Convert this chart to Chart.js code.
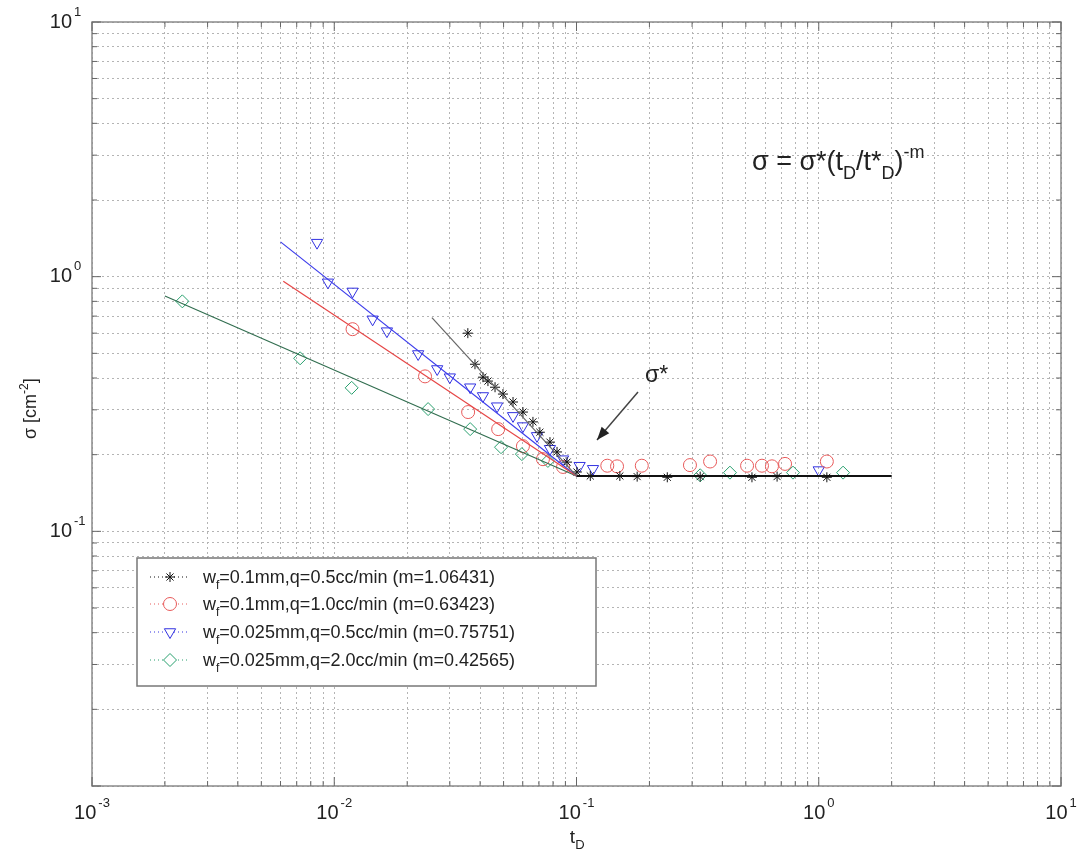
<!DOCTYPE html>
<html>
<head>
<meta charset="utf-8">
<script src="https://cdn.jsdelivr.net/npm/chart.js@4.4.1/dist/chart.umd.min.js"></script>
<style>
  html, body { margin: 0; padding: 0; background: #fff; }
  #wrap { width: 1080px; height: 861px; position: relative; }
</style>
</head>
<body>
<div id="wrap"><canvas id="chart"></canvas></div>
<script>
// axis decades and their labels
const xMajor = [0.001, 0.01, 0.1, 1, 10];
const xExp = ['-3', '-2', '-1', '0', '1'];
const yMajor = [0.01, 0.1, 1, 10];
const yExp = ['', '-1', '0', '1']; // bottom decade has no label in the original

// legend text
const seriesNames = [
  ['=0.1mm,q=0.5cc/min (m=1.06431)'],
  ['=0.1mm,q=1.0cc/min (m=0.63423)'],
  ['=0.025mm,q=0.5cc/min (m=0.75751)'],
  ['=0.025mm,q=2.0cc/min (m=0.42565)']
];

// w_f=0.1mm, q=0.5cc/min  (stars)
const starT = [0.0356, 0.0381, 0.0411, 0.0431, 0.0461, 0.0497, 0.0547, 0.0601, 0.0661, 0.0706, 0.0777, 0.0831, 0.0914, 0.1004, 0.114, 0.151, 0.178, 0.237, 0.324, 0.530, 0.673, 1.08];
const starS = [0.600, 0.453, 0.403, 0.389, 0.368, 0.346, 0.322, 0.294, 0.269, 0.245, 0.224, 0.205, 0.187, 0.171, 0.165, 0.165, 0.164, 0.163, 0.164, 0.163, 0.164, 0.163];

// w_f=0.1mm, q=1.0cc/min  (circles)
const circT = [0.0119, 0.0237, 0.0357, 0.0475, 0.0601, 0.0727, 0.088, 0.134, 0.147, 0.186, 0.294, 0.356, 0.506, 0.583, 0.641, 0.726, 1.08];
const circS = [0.622, 0.406, 0.294, 0.252, 0.216, 0.192, 0.179, 0.181, 0.180, 0.181, 0.182, 0.188, 0.181, 0.181, 0.180, 0.184, 0.188];

// w_f=0.025mm, q=0.5cc/min  (triangles)
const triT = [0.00849, 0.00942, 0.0119, 0.0144, 0.0165, 0.0222, 0.0266, 0.0300, 0.0364, 0.0411, 0.0470, 0.0547, 0.0601, 0.0687, 0.0777, 0.0880, 0.103, 0.117, 1.0];
const triS = [1.36, 0.95, 0.875, 0.680, 0.611, 0.497, 0.434, 0.403, 0.368, 0.340, 0.310, 0.284, 0.259, 0.237, 0.211, 0.192, 0.181, 0.176, 0.174];

// w_f=0.025mm, q=2.0cc/min  (diamonds)
const diaT = [0.00236, 0.00723, 0.0118, 0.0244, 0.0364, 0.0488, 0.0595, 0.0762, 0.324, 0.430, 0.783, 1.26];
const diaS = [0.80, 0.478, 0.366, 0.302, 0.252, 0.214, 0.201, 0.189, 0.166, 0.170, 0.170, 0.170];

// power-law fit lines, read at their ends
const fitStarT = [0.0253, 0.1];  const fitStarS = [0.69, 0.165];
const fitCircT = [0.00616, 0.1]; const fitCircS = [0.96, 0.165];
const fitTriT = [0.0060, 0.1];   const fitTriS = [1.37, 0.165];
const fitDiaT = [0.0020, 0.1];   const fitDiaS = [0.84, 0.165];
const plateauT = [0.1, 2.0];     const plateauS = [0.165, 0.165];

function pts(t, s) { return t.map((v, i) => ({ x: v, y: s[i] })); }
function allTicks(majors) {
  const out = [];
  majors.forEach((m, i) => {
    out.push({ value: m });
    if (i < majors.length - 1) for (let k = 2; k <= 9; k++) out.push({ value: m * k });
  });
  return out;
}

const colors = ['#111111', 'rgb(232,90,90)', 'rgb(50,50,225)', 'rgb(40,160,110)'];
const styles = [
  { pointStyle: 'star', radius: 5, rotation: 0 },
  { pointStyle: 'circle', radius: 6.5, rotation: 0 },
  { pointStyle: 'triangle', radius: 6.5, rotation: 180 },
  { pointStyle: 'rectRot', radius: 6.5, rotation: 0 }
];

function markerSet(t, s, i) {
  return {
    data: pts(t, s), showLine: false,
    borderColor: colors[i], backgroundColor: 'rgba(0,0,0,0)', borderWidth: 1,
    pointStyle: styles[i].pointStyle, pointRadius: styles[i].radius,
    pointRotation: styles[i].rotation, pointHoverRadius: styles[i].radius
  };
}
function lineSet(t, s, color, w) {
  return { data: pts(t, s), showLine: true, borderColor: color, borderWidth: w, pointRadius: 0, fill: false };
}

const FONT = '"Liberation Sans", Arial, sans-serif';

// draws "10" with a superscript exponent
function drawPow(ctx, exp, x, y, mode) {
  ctx.fillStyle = '#222';
  ctx.textBaseline = 'middle';
  ctx.font = '20px ' + FONT;
  const wb = ctx.measureText('10').width;
  ctx.font = '13px ' + FONT;
  const we = ctx.measureText(exp).width;
  let x0;
  if (mode === 'x') x0 = x - (wb + we + 2) / 2;
  else x0 = x - wb;
  ctx.font = '20px ' + FONT;
  ctx.textAlign = 'left';
  ctx.fillText('10', x0, y);
  ctx.font = '13px ' + FONT;
  ctx.fillText(exp, x0 + wb + 2, y - 10);
}

// draws a run of [text, kind] pieces, kind: n normal, b subscript, p superscript
function drawRich(ctx, parts, x, y, size) {
  ctx.textAlign = 'left';
  ctx.textBaseline = 'alphabetic';
  let cx = x;
  parts.forEach(([txt, kind]) => {
    const sz = kind === 'n' ? size : Math.round(size * 0.68);
    const dy = kind === 'b' ? size * 0.33 : kind === 'p' ? -size * 0.45 : 0;
    ctx.font = sz + 'px ' + FONT;
    ctx.fillText(txt, cx, y + dy);
    cx += ctx.measureText(txt).width;
  });
  return cx - x;
}

const decor = {
  id: 'decor',
  afterDraw(chart) {
    const { ctx, chartArea: a, scales: { x, y } } = chart;
    ctx.save();
    // frame
    ctx.strokeStyle = '#8a8a8a';
    ctx.lineWidth = 1.5;
    ctx.setLineDash([]);
    ctx.strokeRect(a.left, a.top, a.right - a.left, a.bottom - a.top);
    // inward ticks on all four sides
    ctx.lineWidth = 1;
    ctx.strokeStyle = '#666';
    ctx.beginPath();
    x.ticks.forEach(t => {
      const px = x.getPixelForValue(t.value);
      const len = xMajor.includes(t.value) ? 9 : 5;
      ctx.moveTo(px, a.bottom); ctx.lineTo(px, a.bottom - len);
      ctx.moveTo(px, a.top); ctx.lineTo(px, a.top + len);
    });
    y.ticks.forEach(t => {
      const py = y.getPixelForValue(t.value);
      const len = yMajor.includes(t.value) ? 9 : 5;
      ctx.moveTo(a.left, py); ctx.lineTo(a.left + len, py);
      ctx.moveTo(a.right, py); ctx.lineTo(a.right - len, py);
    });
    ctx.stroke();

    // tick labels
    xMajor.forEach((v, i) => drawPow(ctx, xExp[i], x.getPixelForValue(v), a.bottom + 27, 'x'));
    yMajor.forEach((v, i) => { if (yExp[i]) drawPow(ctx, yExp[i], a.left - 20, y.getPixelForValue(v), 'y'); });

    // axis titles
    ctx.fillStyle = '#222';
    const wt = (() => { ctx.font = '19px ' + FONT; return ctx.measureText('t').width + 8; })();
    drawRich(ctx, [['t', 'n'], ['D', 'b']], (a.left + a.right) / 2 - wt / 2, a.bottom + 57, 19);
    ctx.save();
    ctx.translate(36, 408);
    ctx.rotate(-Math.PI / 2);
    ctx.font = '18px ' + FONT;
    const wy = ctx.measureText('σ [cm]').width + 12;
    drawRich(ctx, [['σ [cm', 'n'], ['-2', 'p'], [']', 'n']], -wy / 2, 0, 18);
    ctx.restore();

    // equation
    drawRich(ctx, [['σ = σ*(t', 'n'], ['D', 'b'], ['/t*', 'n'], ['D', 'b'], [')', 'n'], ['-m', 'p']], 752, 170, 27);

    // sigma* note and arrow
    drawRich(ctx, [['σ*', 'n']], 645, 382, 23);
    const x1 = 638, y1 = 392, x2 = 597, y2 = 440;
    ctx.strokeStyle = '#444';
    ctx.lineWidth = 1.5;
    ctx.beginPath(); ctx.moveTo(x1, y1); ctx.lineTo(x2, y2); ctx.stroke();
    const ang = Math.atan2(y2 - y1, x2 - x1);
    ctx.fillStyle = '#222';
    ctx.beginPath();
    ctx.moveTo(x2, y2);
    ctx.lineTo(x2 - 13 * Math.cos(ang) + 5 * Math.sin(ang), y2 - 13 * Math.sin(ang) - 5 * Math.cos(ang));
    ctx.lineTo(x2 - 13 * Math.cos(ang) - 5 * Math.sin(ang), y2 - 13 * Math.sin(ang) + 5 * Math.cos(ang));
    ctx.closePath(); ctx.fill();

    // legend box
    const lx = 137, ly = 558, lw = 459, lh = 128;
    ctx.fillStyle = '#fff';
    ctx.fillRect(lx, ly, lw, lh);
    ctx.strokeStyle = '#777';
    ctx.lineWidth = 1.5;
    ctx.strokeRect(lx, ly, lw, lh);
    const rows = [577, 604, 632, 660];
    rows.forEach((ry, i) => {
      ctx.strokeStyle = colors[i];
      ctx.lineWidth = 1;
      ctx.setLineDash([1, 3]);
      ctx.beginPath(); ctx.moveTo(150, ry); ctx.lineTo(190, ry); ctx.stroke();
      ctx.setLineDash([]);
      ctx.fillStyle = '#fff';
      Chart.helpers.drawPoint(ctx, { pointStyle: styles[i].pointStyle, radius: styles[i].radius, rotation: styles[i].rotation, borderWidth: 1 }, 170, ry);
      ctx.fillStyle = '#222';
      drawRich(ctx, [['w', 'n'], ['f', 'b'], [seriesNames[i][0], 'n']], 203, ry + 6, 18);
    });
    ctx.restore();
  }
};

const gridOpts = { color: '#b4b4b4', lineWidth: 1, drawTicks: false };

new Chart(document.getElementById('chart'), {
  type: 'scatter',
  data: {
    datasets: [
      lineSet(fitStarT, fitStarS, '#666', 1.2),
      lineSet(fitCircT, fitCircS, 'rgb(230,70,70)', 1.2),
      lineSet(fitTriT, fitTriS, 'rgb(60,60,235)', 1.2),
      lineSet(fitDiaT, fitDiaS, 'rgb(50,110,80)', 1.2),
      lineSet(plateauT, plateauS, '#111', 2),
      markerSet(starT, starS, 0),
      markerSet(circT, circS, 1),
      markerSet(triT, triS, 2),
      markerSet(diaT, diaS, 3)
    ]
  },
  options: {
    responsive: true,
    maintainAspectRatio: false,
    animation: false,
    layout: { padding: { left: 92, top: 22, right: 19, bottom: 75 } },
    plugins: { legend: { display: false }, tooltip: { enabled: false } },
    scales: {
      x: {
        type: 'logarithmic', min: 0.001, max: 10,
        afterBuildTicks: s => { s.ticks = allTicks(xMajor); },
        ticks: { display: false },
        grid: gridOpts,
        border: { display: false, dash: [2, 3] }
      },
      y: {
        type: 'logarithmic', min: 0.01, max: 10,
        afterBuildTicks: s => { s.ticks = allTicks(yMajor); },
        ticks: { display: false },
        grid: gridOpts,
        border: { display: false, dash: [2, 3] }
      }
    }
  },
  plugins: [decor]
});
</script>
</body>
</html>
